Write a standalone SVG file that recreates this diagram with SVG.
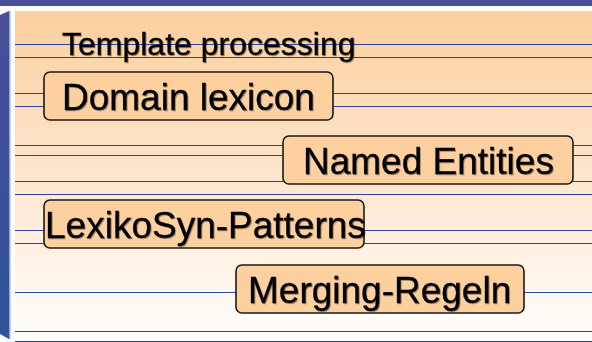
<svg xmlns="http://www.w3.org/2000/svg" width="592" height="342" viewBox="0 0 592 342">
<defs>
<linearGradient id="bg" x1="0" y1="0" x2="0" y2="1">
<stop offset="0" stop-color="#fbcf9e"/>
<stop offset="0.5" stop-color="#fde6cf"/>
<stop offset="1" stop-color="#fffefd"/>
</linearGradient>
<linearGradient id="bar" x1="0" y1="0" x2="0" y2="1">
<stop offset="0" stop-color="#4a4e96"/>
<stop offset="1" stop-color="#2f5399"/>
</linearGradient>
<filter id="sh" x="-5%" y="-20%" width="110%" height="140%">
<feDropShadow dx="1" dy="1" stdDeviation="0.6" flood-color="#000" flood-opacity="0.35"/>
</filter>
<style>
.ln{stroke:#2f4396;stroke-width:1;fill:none}
.box{fill:#fdd09f;stroke:#1a1a1a;stroke-width:1.6}
.t{font-family:"Liberation Sans",Arial,sans-serif;fill:#000;stroke:#000;stroke-width:0.35;filter:url(#sh)}
</style>
</defs>
<rect x="0" y="0" width="592" height="342" fill="#ffffff"/>
<rect x="15" y="11" width="577" height="331" fill="url(#bg)"/>
<rect x="0" y="0" width="592" height="6" fill="#4a4f95"/>
<polygon points="0,0 9,0 9,339 0,334" fill="url(#bar)"/>
<polygon points="0,6 14,6 0,13" fill="#4a4f95"/>
<polygon points="0,6 16,6 9,11 0,15" fill="#ffffff"/>
<rect x="9" y="11" width="1.5" height="328" fill="#9aa6d4"/>
<g id="connectors">
<line class="ln" x1="15" y1="44.5" x2="592" y2="44.5"/>
<line class="ln" x1="15" y1="57.5" x2="592" y2="57.5"/>
<line class="ln" x1="15" y1="93.5" x2="592" y2="93.5"/>
<line class="ln" x1="15" y1="106.5" x2="592" y2="106.5"/>
<line class="ln" x1="15" y1="145.5" x2="592" y2="145.5"/>
<line class="ln" x1="15" y1="155.5" x2="592" y2="155.5"/>
<line class="ln" x1="15" y1="181.5" x2="592" y2="181.5"/>
<line class="ln" x1="15" y1="194.5" x2="592" y2="194.5"/>
<line class="ln" x1="15" y1="230.5" x2="592" y2="230.5"/>
<line class="ln" x1="15" y1="243.5" x2="592" y2="243.5"/>
<line class="ln" x1="15" y1="292.5" x2="592" y2="292.5"/>
<line class="ln" x1="15" y1="331.5" x2="592" y2="331.5"/>
<line class="ln" x1="15" y1="341.5" x2="592" y2="341.5"/>
</g>
<g id="template">
<text class="t" x="62" y="55" font-size="32">Template processing</text>
</g>
<g id="domain">
<rect class="box" x="44" y="72" width="289" height="48" rx="6"/>
<text class="t" x="62" y="110" font-size="37">Domain lexicon</text>
</g>
<g id="named">
<rect class="box" x="283" y="136" width="290" height="48" rx="6"/>
<text class="t" x="303" y="174" font-size="37">Named Entities</text>
</g>
<g id="lexiko">
<rect class="box" x="44" y="200" width="320" height="48" rx="6"/>
<text class="t" x="45" y="238" font-size="37">LexikoSyn-Patterns</text>
</g>
<g id="merging">
<rect class="box" x="236" y="265" width="288" height="48" rx="6"/>
<text class="t" x="248" y="303" font-size="37">Merging-Regeln</text>
</g>
</svg>
